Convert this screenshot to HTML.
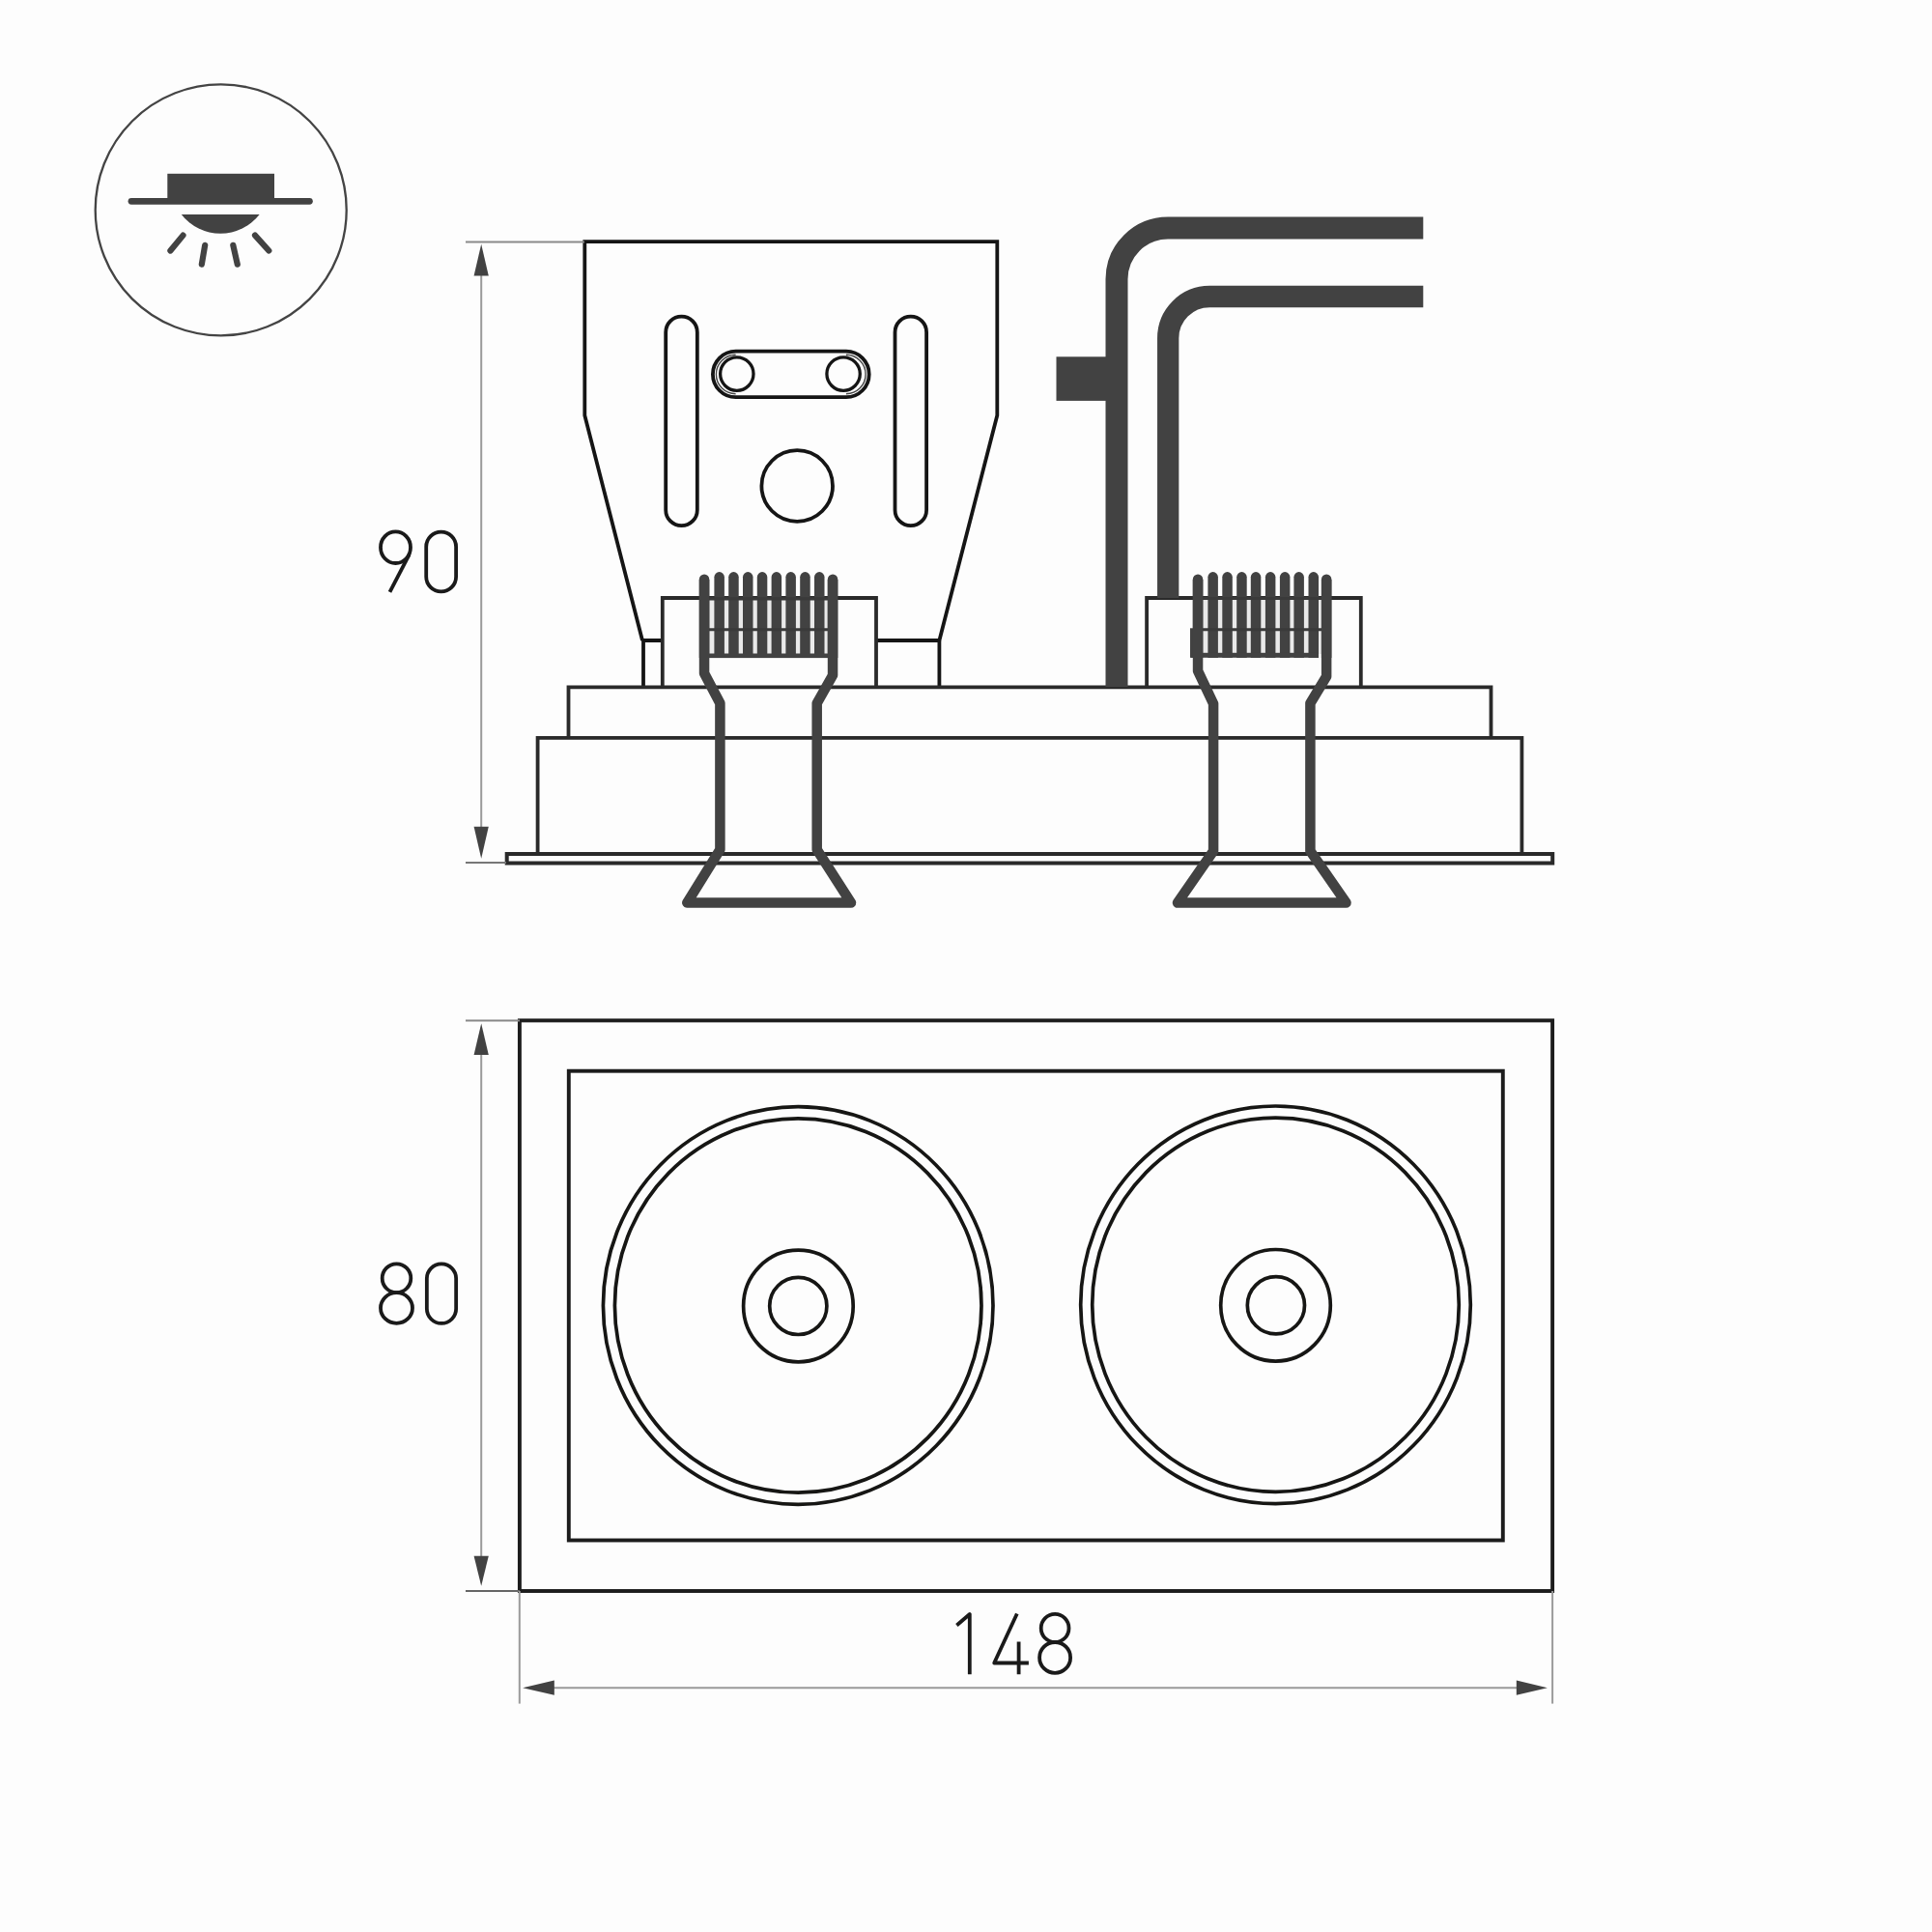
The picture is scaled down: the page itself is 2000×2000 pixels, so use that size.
<!DOCTYPE html>
<html><head><meta charset="utf-8">
<style>
html,body{margin:0;padding:0;background:#fdfdfd;}
body{width:2000px;height:2000px;overflow:hidden;font-family:"Liberation Sans",sans-serif;}
svg{display:block;}
</style></head>
<body>
<svg width="2000" height="2000" viewBox="0 0 2000 2000">
<rect x="0" y="0" width="2000" height="2000" fill="#fdfdfd"/>

<!-- ICON -->
<g id="icon">
  <circle cx="228.7" cy="217.4" r="130" fill="none" stroke="#444" stroke-width="2.3"/>
  <line x1="136" y1="208.3" x2="320.4" y2="208.3" stroke="#424242" stroke-width="6.8" stroke-linecap="round"/>
  <rect x="173.3" y="179.8" width="110.7" height="30" fill="#424242"/>
  <path d="M187.8,221.9 H268.6 A51,51 0 0 1 187.8,221.9 Z" fill="#424242"/>
  <g stroke="#424242" stroke-width="6.2" stroke-linecap="round">
    <line x1="189.5" y1="243.6" x2="176.4" y2="259.5"/>
    <line x1="212.2" y1="253.8" x2="208.8" y2="273.7"/>
    <line x1="241.3" y1="253.8" x2="245.8" y2="273.7"/>
    <line x1="264" y1="243.6" x2="278.3" y2="259.5"/>
  </g>
</g>

<!-- TOP VIEW (side elevation) -->
<g id="side" fill="none" stroke="#151515" stroke-width="3.8">
  <!-- bracket -->
  <path d="M665,663 L605.3,430 V250.2 H1032.3 V430 L972.4,663" stroke-linejoin="miter"/>
  <path d="M665,663 H686 M907,663 H972.4 M666,663 V711 M972.4,663 V711"/>
  <!-- slots -->
  <rect x="689.2" y="327.6" width="32.6" height="216.6" rx="16.3" ry="16.3"/>
  <rect x="926.5" y="327.6" width="32.6" height="216.6" rx="16.3" ry="16.3"/>
  <!-- pill -->
  <rect x="737.9" y="363.7" width="161.8" height="47.5" rx="23.75" ry="23.75"/>
  <path d="M761.6,367.3 A20.2,20.2 0 0 0 761.6,407.7 M875.9,367.3 A20.2,20.2 0 0 1 875.9,407.7" stroke-width="1.4" stroke="#444"/>
  <circle cx="762.8" cy="387.1" r="17.2" stroke-width="3.3"/>
  <circle cx="873.1" cy="387.1" r="17.2" stroke-width="3.3"/>
  <!-- big hole -->
  <circle cx="825.2" cy="503" r="36.8"/>
</g>
<g fill="none" stroke="#2a2a2a" stroke-width="3.8">
  <!-- connector blocks -->
  <path d="M685.8,711 V619 H907 V711"/>
  <path d="M1187.1,711 V619 H1408.8 V711"/>
  <!-- base steps -->
  <path d="M588.5,764 V711.4 H1543.5 V764"/>
  <path d="M556.6,884 V763.8 H1575.4 V884"/>
  <rect x="524.7" y="884" width="1082.5" height="9.5" stroke-width="4"/>
</g>

<!-- wires -->
<g fill="none" stroke="#424242" stroke-width="23">
  <path d="M1156,711 V289 A53,53 0 0 1 1209,236 H1473.3" stroke-width="23"/>
  <path d="M1209.2,619 V350 A43,43 0 0 1 1252.2,307 H1473.3" stroke-width="22.3"/>
</g>
<rect x="1093.5" y="369.3" width="55" height="45.6" fill="#424242"/>

<!-- connectors -->
<g id="conn1">
  <rect x="730" y="620" width="133" height="57" fill="#e9e9e9"/>
  <g fill="#424242">
    <path d="M723.8,681 V599.75 A5.25,5.25 0 0 1 734.30,599.75 V681 Z"/>
    <path d="M739.4,681 V597.35 A5.25,5.25 0 0 1 749.90,597.35 V681 Z"/>
    <path d="M754.2,681 V597.35 A5.25,5.25 0 0 1 764.70,597.35 V681 Z"/>
    <path d="M769.0,681 V597.35 A5.25,5.25 0 0 1 779.50,597.35 V681 Z"/>
    <path d="M783.8,681 V597.35 A5.25,5.25 0 0 1 794.30,597.35 V681 Z"/>
    <path d="M798.6,681 V597.35 A5.25,5.25 0 0 1 809.10,597.35 V681 Z"/>
    <path d="M813.4,681 V597.35 A5.25,5.25 0 0 1 823.90,597.35 V681 Z"/>
    <path d="M828.2,681 V597.35 A5.25,5.25 0 0 1 838.70,597.35 V681 Z"/>
    <path d="M843.0,681 V597.35 A5.25,5.25 0 0 1 853.50,597.35 V681 Z"/>
    <path d="M856.8,681 V599.75 A5.25,5.25 0 0 1 867.30,599.75 V681 Z"/>
    <rect x="724" y="676.5" width="143" height="4.6"/>
  </g>
  <path d="M724,619.8 H867" stroke="#3a3a3a" stroke-width="3.2"/>
  <path d="M724,651.8 H867" stroke="#3a3a3a" stroke-width="3"/>
  <path d="M729.05,600 V697 L745.4,728 V879.6 L711.3,934.6 H881 L845.7,879.6 V728 L862.05,699 V600" fill="none" stroke="#424242" stroke-width="10.5" stroke-linejoin="round"/>
</g>
<g id="conn2">
  <rect x="1241" y="620" width="133" height="57" fill="#e9e9e9"/>
  <g fill="#424242">
    <path d="M1234.8,681 V599.75 A5.25,5.25 0 0 1 1245.30,599.75 V681 Z"/>
    <path d="M1250.4,681 V597.35 A5.25,5.25 0 0 1 1260.90,597.35 V681 Z"/>
    <path d="M1265.3,681 V597.35 A5.25,5.25 0 0 1 1275.80,597.35 V681 Z"/>
    <path d="M1280.2,681 V597.35 A5.25,5.25 0 0 1 1290.70,597.35 V681 Z"/>
    <path d="M1294.8,681 V597.35 A5.25,5.25 0 0 1 1305.30,597.35 V681 Z"/>
    <path d="M1309.9,681 V597.35 A5.25,5.25 0 0 1 1320.40,597.35 V681 Z"/>
    <path d="M1324.9,681 V597.35 A5.25,5.25 0 0 1 1335.40,597.35 V681 Z"/>
    <path d="M1339.4,681 V597.35 A5.25,5.25 0 0 1 1349.90,597.35 V681 Z"/>
    <path d="M1354.5,681 V597.35 A5.25,5.25 0 0 1 1365.00,597.35 V681 Z"/>
    <path d="M1367.9,681 V599.75 A5.25,5.25 0 0 1 1378.40,599.75 V681 Z"/>
    <rect x="1232.8" y="675.8" width="131" height="5"/>
    <rect x="1232" y="650.3" width="5" height="30.5"/>
  </g>
  <path d="M1235,619.5 H1378" stroke="#3a3a3a" stroke-width="3.2"/>
  <path d="M1235,651.7 H1378" stroke="#3a3a3a" stroke-width="3"/>
  <path d="M1240.05,600 V694.5 L1256.1,728.5 V881 L1219,934.6 H1393.5 L1356.4,881 V728 L1373.15,700.3 V600" fill="none" stroke="#424242" stroke-width="10.5" stroke-linejoin="round"/>
</g>

<!-- BOTTOM VIEW -->
<g fill="none" stroke="#1c1c1c" stroke-width="3.9">
  <rect x="537.9" y="1056.4" width="1069.2" height="590.6"/>
  <rect x="588.8" y="1108.7" width="967" height="485.8"/>
</g>
<g fill="none" stroke="#161614" stroke-width="3.7">
  <ellipse cx="826.2" cy="1351.5" rx="201.8" ry="205.8"/>
  <ellipse cx="826.2" cy="1351.5" rx="189.8" ry="193.6"/>
  <ellipse cx="826.4" cy="1352" rx="56.8" ry="57.8"/>
  <circle cx="826.3" cy="1351.9" r="29.6"/>
  <ellipse cx="1320.5" cy="1350.8" rx="201.8" ry="205.8"/>
  <ellipse cx="1320.5" cy="1350.8" rx="189.8" ry="193.6"/>
  <ellipse cx="1320.5" cy="1351.3" rx="56.8" ry="57.8"/>
  <circle cx="1320.9" cy="1351.3" r="29.6"/>
</g>

<!-- DIMENSIONS -->
<g stroke="#9a9a9a" stroke-width="2" fill="none">
  <line x1="482" y1="250.4" x2="605" y2="250.4" stroke="#8a8a8a"/>
  <line x1="482" y1="893" x2="524" y2="893" stroke="#777"/>
  <line x1="498.2" y1="270" x2="498.2" y2="870"/>
  <line x1="482" y1="1056.4" x2="538" y2="1056.4" stroke="#888"/>
  <line x1="482" y1="1647" x2="538" y2="1647" stroke="#666"/>
  <line x1="498.2" y1="1075" x2="498.2" y2="1625"/>
  <line x1="537.8" y1="1647" x2="537.8" y2="1763.6"/>
  <line x1="1607.1" y1="1647" x2="1607.1" y2="1763.6"/>
  <line x1="560" y1="1747.2" x2="1585" y2="1747.2"/>
</g>
<g fill="#424242">
  <path d="M498.2,252.8 L505.8,285.4 H490.6 Z"/>
  <path d="M498.2,888.7 L505.8,855.7 H490.6 Z"/>
  <path d="M498.2,1059.5 L505.8,1092.1 H490.6 Z"/>
  <path d="M498.2,1641.7 L505.8,1610.7 H490.6 Z"/>
  <path d="M541.1,1747.2 L573.8,1739.6 V1754.8 Z"/>
  <path d="M1601.9,1747.2 L1569.8,1739.6 V1754.8 Z"/>
</g>

<!-- DIGITS -->
<g fill="none" stroke="#1a1a1a" stroke-width="3.8" stroke-linejoin="round">
  <!-- 90 -->
  <ellipse cx="409.5" cy="566.7" rx="15.5" ry="16.3"/>
  <path d="M423.5,574.4 L403.5,612.8"/>
  <path d="M441.2,566 A15.45,15.45 0 0 1 472.1,566 V597 A15.45,15.45 0 0 1 441.2,597 Z"/>
  <!-- 80 -->
  <ellipse cx="410.5" cy="1323.2" rx="14.8" ry="14.9"/>
  <ellipse cx="410.5" cy="1354" rx="16.5" ry="15.9"/>
  <path d="M441.85,1323.5 A15.15,15.15 0 0 1 472.15,1323.5 V1354.8 A15.15,15.15 0 0 1 441.85,1354.8 Z"/>
  <!-- 148 -->
  <path d="M990.4,1682.5 L1003.8,1671 V1733.2"/>
  <path d="M1052.8,1670.5 L1029.2,1721.5 H1064.9 M1054.6,1699.5 V1733.2"/>
  <ellipse cx="1092.1" cy="1685.45" rx="14.4" ry="14.55"/>
  <ellipse cx="1092.1" cy="1715.9" rx="16" ry="15.9"/>
</g>
</svg>
</body></html>
